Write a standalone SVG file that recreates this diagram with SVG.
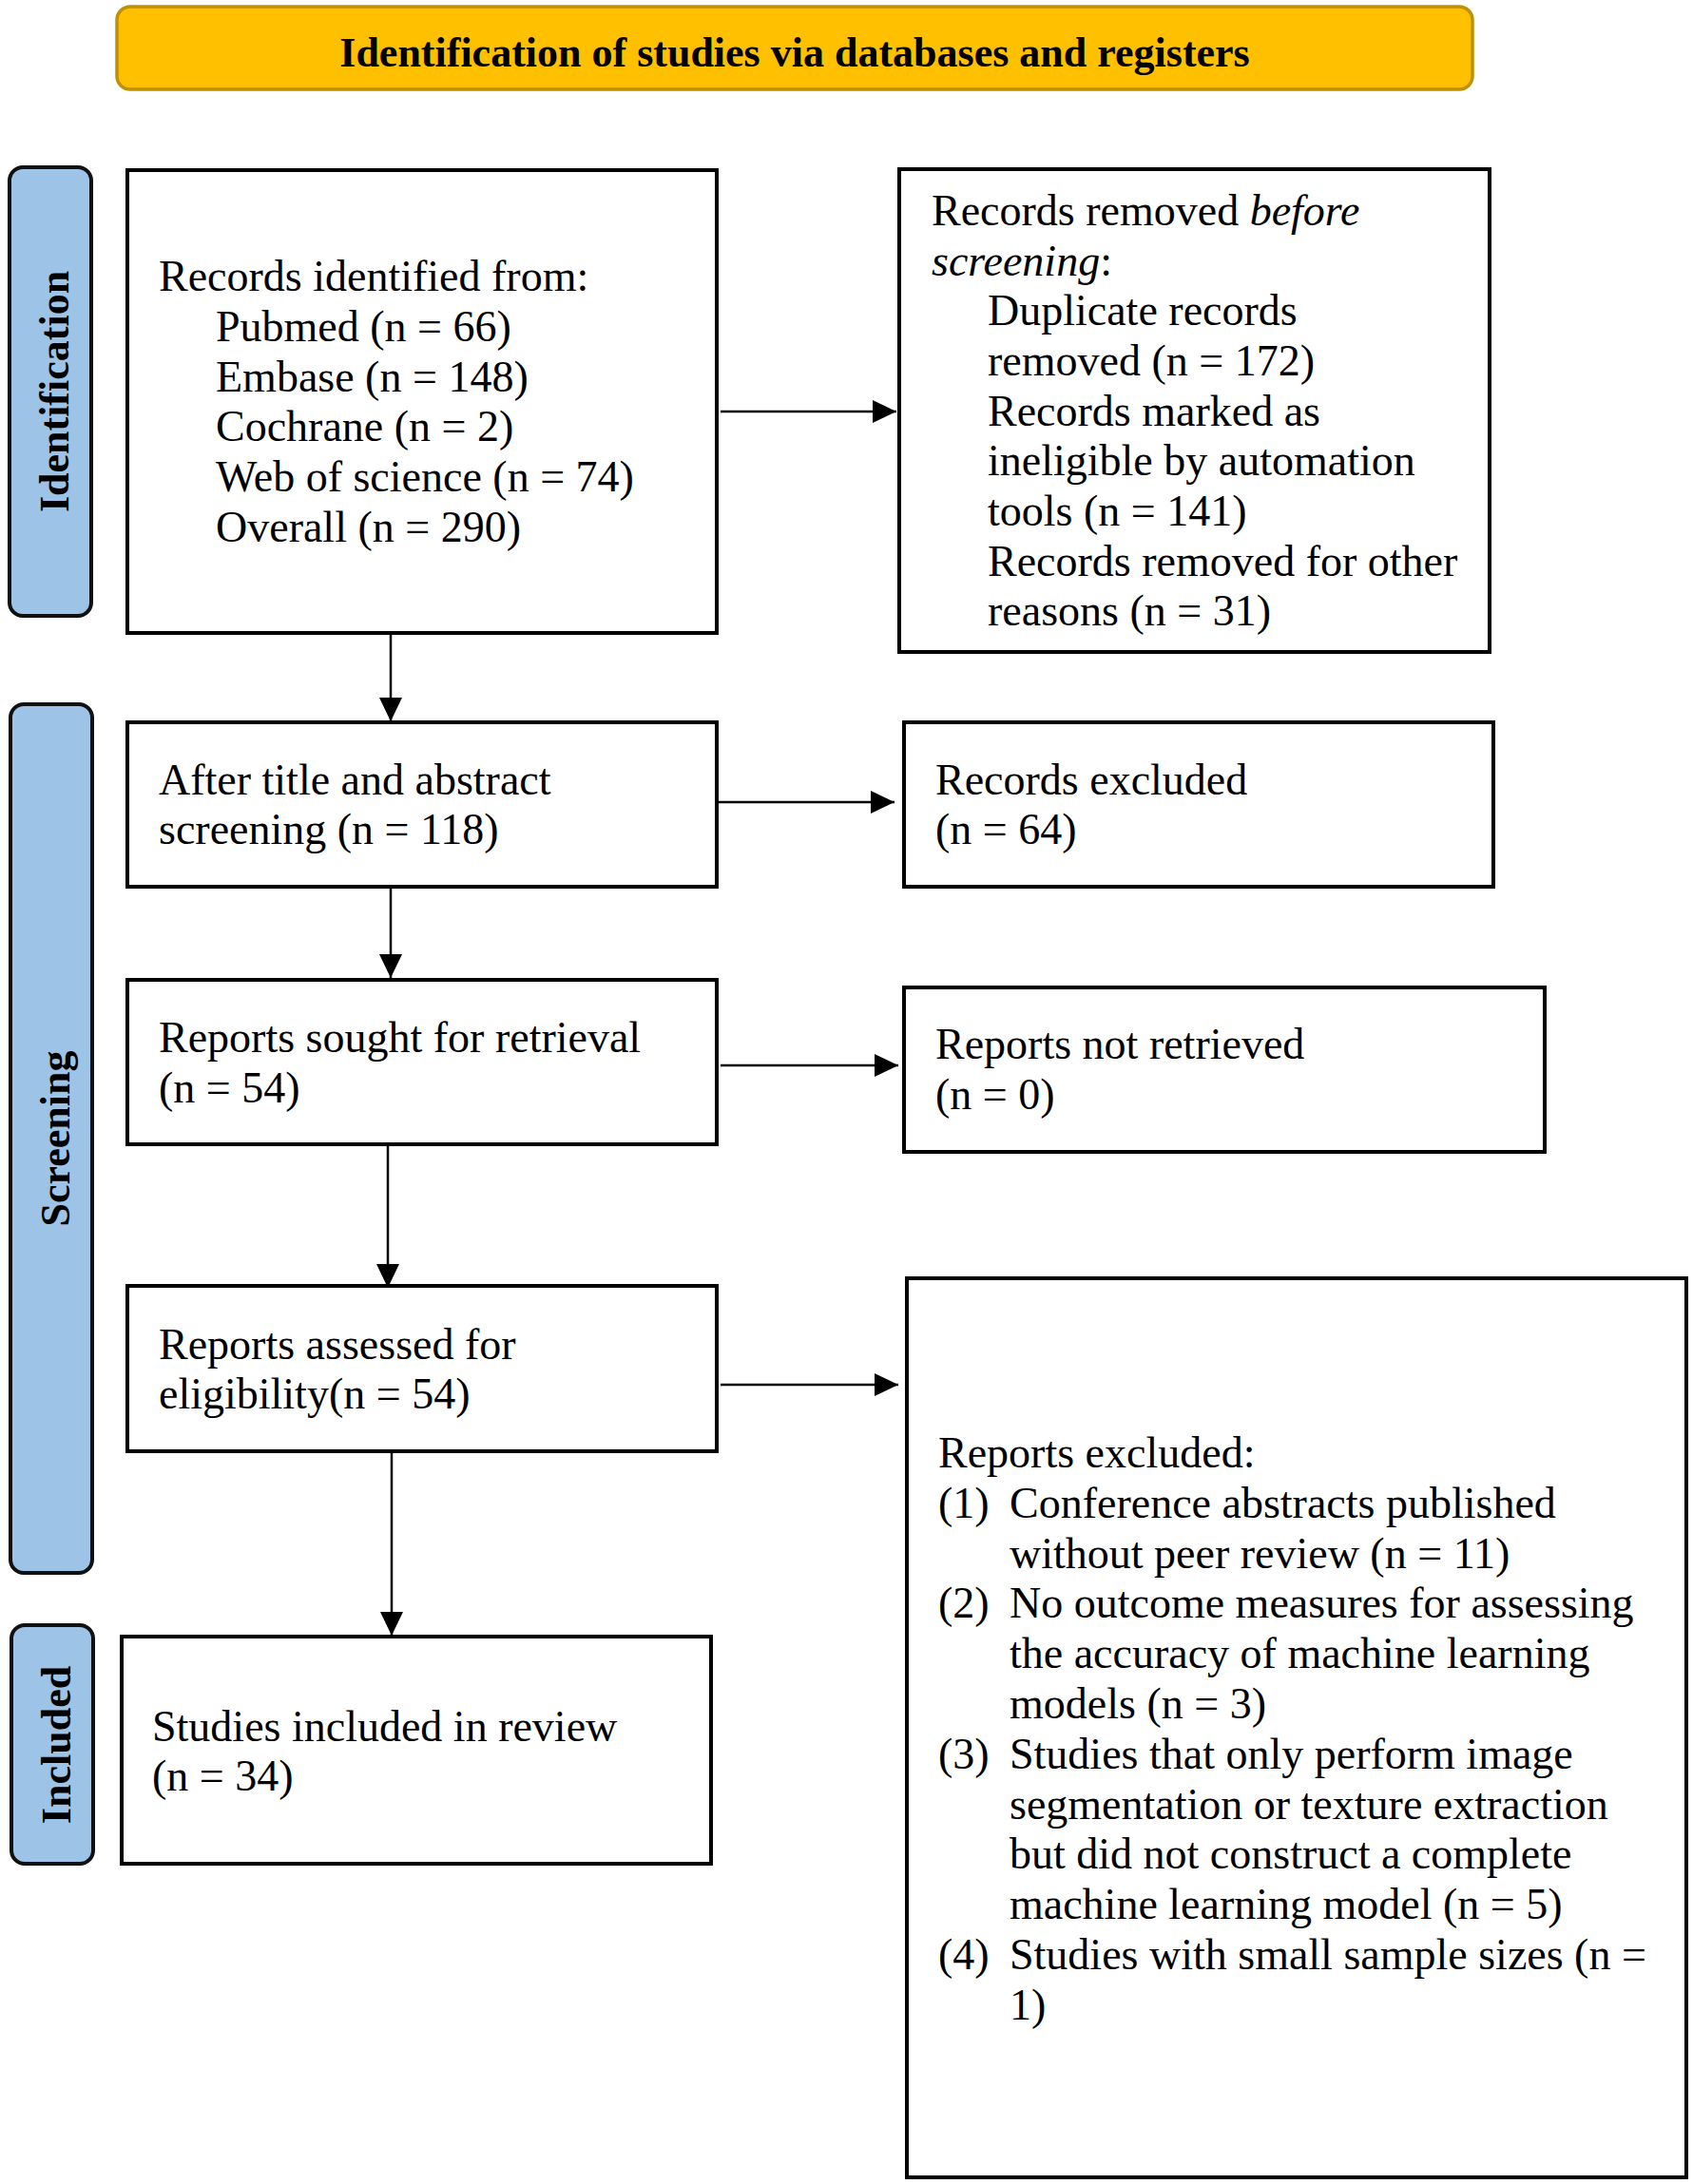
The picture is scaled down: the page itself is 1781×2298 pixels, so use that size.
<svg xmlns="http://www.w3.org/2000/svg" width="1781" height="2298" viewBox="0 0 1781 2298">
<style>
.t{font-family:"Liberation Serif","Times New Roman",serif;font-size:46px;fill:#000}
.box{fill:#fff;stroke:#000;stroke-width:4}
.side{fill:#9DC3E6;stroke:#111;stroke-width:4}
.lab{font-family:"Liberation Serif","Times New Roman",serif;font-size:44px;font-weight:bold;fill:#000}
.ln{stroke:#000;stroke-width:2.5;fill:none}
</style>
<defs>
<marker id="ah" markerUnits="userSpaceOnUse" markerWidth="26" markerHeight="24" refX="25" refY="12" orient="auto">
<path d="M0,0 L25,12 L0,24 z" fill="#000"/>
</marker>
</defs>
<rect width="1781" height="2298" fill="#fff"/>
<g id="banner">
<rect x="123" y="7" width="1426" height="87" rx="14" fill="#FFC000" stroke="#BF9000" stroke-width="3.5"/>
<text class="lab" x="836" y="70" text-anchor="middle">Identification of studies via databases and registers</text>
</g>
<g id="side-identification">
<rect class="side" x="10" y="176" width="86" height="472" rx="14"/>
<text class="lab" transform="translate(72,412) rotate(-90)" text-anchor="middle">Identification</text>
</g>
<g id="side-screening">
<rect class="side" x="11" y="741" width="86" height="914" rx="14"/>
<text class="lab" transform="translate(73,1198) rotate(-90)" text-anchor="middle">Screening</text>
</g>
<g id="side-included">
<rect class="side" x="12" y="1710" width="86" height="251" rx="14"/>
<text class="lab" transform="translate(74,1836) rotate(-90)" text-anchor="middle">Included</text>
</g>
<g id="records-identified">
<rect class="box" x="134" y="179" width="620" height="487"/>
<text class="t" x="167" y="306">Records identified from:</text>
<text class="t" x="227" y="359">Pubmed (n = 66)</text>
<text class="t" x="227" y="412">Embase (n = 148)</text>
<text class="t" x="227" y="464">Cochrane (n = 2)</text>
<text class="t" x="227" y="517">Web of science (n = 74)</text>
<text class="t" x="227" y="570">Overall (n = 290)</text>
</g>
<g id="records-removed">
<rect class="box" x="946" y="178" width="621" height="508"/>
<text class="t" x="980" y="237">Records removed <tspan font-style="italic">before</tspan></text>
<text class="t" x="980" y="290"><tspan font-style="italic">screening</tspan>:</text>
<text class="t" x="1039" y="342">Duplicate records</text>
<text class="t" x="1039" y="395">removed (n = 172)</text>
<text class="t" x="1039" y="448">Records marked as</text>
<text class="t" x="1039" y="500">ineligible by automation</text>
<text class="t" x="1039" y="553">tools (n = 141)</text>
<text class="t" x="1039" y="606">Records removed for other</text>
<text class="t" x="1039" y="658">reasons (n = 31)</text>
</g>
<g id="title-abstract">
<rect class="box" x="134" y="760" width="620" height="173"/>
<text class="t" x="167" y="836">After title and abstract</text>
<text class="t" x="167" y="888">screening (n = 118)</text>
</g>
<g id="records-excluded">
<rect class="box" x="951" y="760" width="620" height="173"/>
<text class="t" x="984" y="836">Records excluded</text>
<text class="t" x="984" y="888">(n = 64)</text>
</g>
<g id="reports-sought">
<rect class="box" x="134" y="1031" width="620" height="173"/>
<text class="t" x="167" y="1107">Reports sought for retrieval</text>
<text class="t" x="167" y="1160">(n = 54)</text>
</g>
<g id="reports-not-retrieved">
<rect class="box" x="951" y="1039" width="674" height="173"/>
<text class="t" x="984" y="1114">Reports not retrieved</text>
<text class="t" x="984" y="1167">(n = 0)</text>
</g>
<g id="reports-assessed">
<rect class="box" x="134" y="1353" width="620" height="174"/>
<text class="t" x="167" y="1430">Reports assessed for</text>
<text class="t" x="167" y="1482">eligibility(n = 54)</text>
</g>
<g id="reports-excluded">
<rect class="box" x="954" y="1345" width="820" height="946"/>
<text class="t" x="987" y="1544">Reports excluded:</text>
<text class="t" x="987" y="1597">(1)</text>
<text class="t" x="1062" y="1597">Conference abstracts published</text>
<text class="t" x="1062" y="1650">without peer review (n = 11)</text>
<text class="t" x="987" y="1702">(2)</text>
<text class="t" x="1062" y="1702">No outcome measures for assessing</text>
<text class="t" x="1062" y="1755">the accuracy of machine learning</text>
<text class="t" x="1062" y="1808">models (n = 3)</text>
<text class="t" x="987" y="1861">(3)</text>
<text class="t" x="1062" y="1861">Studies that only perform image</text>
<text class="t" x="1062" y="1914">segmentation or texture extraction</text>
<text class="t" x="1062" y="1966">but did not construct a complete</text>
<text class="t" x="1062" y="2019">machine learning model (n = 5)</text>
<text class="t" x="987" y="2072">(4)</text>
<text class="t" x="1062" y="2072">Studies with small sample sizes (n =</text>
<text class="t" x="1062" y="2125">1)</text>
</g>
<g id="studies-included">
<rect class="box" x="128" y="1722" width="620" height="239"/>
<text class="t" x="160" y="1832">Studies included in review</text>
<text class="t" x="160" y="1884">(n = 34)</text>
</g>
<g id="connectors">
<line class="ln" x1="758" y1="433" x2="943" y2="433" marker-end="url(#ah)"/>
<line class="ln" x1="756" y1="844" x2="941" y2="844" marker-end="url(#ah)"/>
<line class="ln" x1="758" y1="1121" x2="945" y2="1121" marker-end="url(#ah)"/>
<line class="ln" x1="758" y1="1457" x2="945" y2="1457" marker-end="url(#ah)"/>
<line class="ln" x1="411" y1="668" x2="411" y2="759" marker-end="url(#ah)"/>
<line class="ln" x1="411" y1="935" x2="411" y2="1029" marker-end="url(#ah)"/>
<line class="ln" x1="408" y1="1206" x2="408" y2="1355" marker-end="url(#ah)"/>
<line class="ln" x1="412" y1="1529" x2="412" y2="1721" marker-end="url(#ah)"/>
</g>
</svg>
